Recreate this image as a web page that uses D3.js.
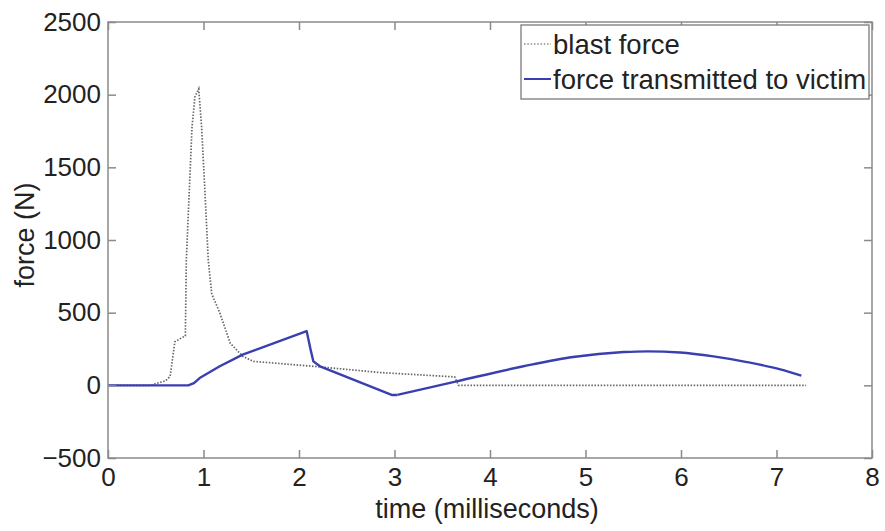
<!DOCTYPE html>
<html>
<head>
<meta charset="utf-8">
<script src="https://cdn.jsdelivr.net/npm/d3@7"></script>
<style>
  body { margin: 0; background: #fff; }
  text { font-family: "Liberation Sans", Arial, sans-serif; fill: #222; }
</style>
</head>
<body>
<div id="chart"></div>
<script>
// blast force (dotted grey)
const blastTime = [0, 0.45, 0.5, 0.6, 0.65, 0.7, 0.78, 0.81, 0.82, 0.88, 0.91, 0.95, 0.98, 1.016, 1.05, 1.086, 1.17, 1.28, 1.41, 1.52, 2.15, 2.85, 3.63, 3.67, 7.31];
const blastForce = [0, 0, 12, 30, 60, 300, 330, 340, 860, 1780, 1985, 2040, 1780, 1320, 860, 630, 500, 290, 200, 165, 131, 88, 58, 0, 0];

// force transmitted to victim (blue)
const victimTime = [0, 0.84, 0.9, 0.96, 1.17, 1.41, 2.08, 2.12, 2.15, 2.22, 2.97, 3.03, 3.65, 4.35, 4.87, 5.4, 5.65, 5.99, 6.34, 6.69, 7.04, 7.26];
const victimForce = [0, 0, 15, 50, 131, 211, 373, 250, 165, 131, -66, -66, 27, 131, 195, 229, 234, 226, 199, 160, 110, 67];

const xTicks = [0, 1, 2, 3, 4, 5, 6, 7, 8];
const yTicks = [-500, 0, 500, 1000, 1500, 2000, 2500];

const legendLabels = ["blast force", "force transmitted to victim"];

const conf = { width: 885, height: 531, left: 108, right: 13, top: 22, bottom: 73 };

const svg = d3.select("#chart").append("svg")
  .attr("width", conf.width)
  .attr("height", conf.height);

const x = d3.scaleLinear().domain([0, 8]).range([conf.left, conf.width - conf.right]);
const y = d3.scaleLinear().domain([-500, 2500]).range([conf.height - conf.bottom, conf.top]);

const axisColor = "#8a8a8a";
const tick = 8;
const blue = "#3a3fb0";

// lines
const blast = blastTime.map((t, i) => ({ t: t, f: blastForce[i] }));
const victim = victimTime.map((t, i) => ({ t: t, f: victimForce[i] }));

svg.append("path")
  .datum(blast)
  .attr("fill", "none")
  .attr("stroke", "#666")
  .attr("stroke-width", 1.7)
  .attr("stroke-dasharray", "1.5,1.6")
  .attr("d", d3.line().x(d => x(d.t)).y(d => y(d.f)));

// sharp part drawn straight, the slow swing after 3 ms drawn smooth
const sharp = victim.filter(d => d.t <= 3.03);
const swing = victim.filter(d => d.t >= 3.03);

svg.append("path")
  .datum(sharp)
  .attr("fill", "none")
  .attr("stroke", blue)
  .attr("stroke-width", 2.4)
  .attr("stroke-linejoin", "round")
  .attr("d", d3.line().x(d => x(d.t)).y(d => y(d.f)));

svg.append("path")
  .datum(swing)
  .attr("fill", "none")
  .attr("stroke", blue)
  .attr("stroke-width", 2.4)
  .attr("d", d3.line().x(d => x(d.t)).y(d => y(d.f)).curve(d3.curveMonotoneX));

// axes box with inward ticks on all sides
const fmt = d3.format("d");
function styleAxis(g) {
  g.select(".domain").remove();
  g.selectAll(".tick line").attr("stroke", axisColor).attr("stroke-width", 1.5);
  g.selectAll(".tick text").style("font-size", "26px").attr("fill", "#222");
}

svg.append("g")
  .attr("transform", `translate(0,${y(-500)})`)
  .call(d3.axisBottom(x).tickValues(xTicks).tickFormat(fmt).tickSizeInner(-tick).tickPadding(10))
  .call(styleAxis);

svg.append("g")
  .attr("transform", `translate(0,${y(2500)})`)
  .call(d3.axisTop(x).tickValues(xTicks).tickFormat("").tickSizeInner(-tick))
  .call(styleAxis);

svg.append("g")
  .attr("transform", `translate(${x(0)},0)`)
  .call(d3.axisLeft(y).tickValues(yTicks).tickFormat(fmt).tickSizeInner(-tick).tickPadding(7))
  .call(styleAxis);

svg.append("g")
  .attr("transform", `translate(${x(8)},0)`)
  .call(d3.axisRight(y).tickValues(yTicks).tickFormat("").tickSizeInner(-tick))
  .call(styleAxis);

svg.append("rect")
  .attr("x", x(0)).attr("y", y(2500))
  .attr("width", x(8) - x(0)).attr("height", y(-500) - y(2500))
  .attr("fill", "none").attr("stroke", axisColor).attr("stroke-width", 1.5);

// axis labels
svg.append("text")
  .attr("x", (x(0) + x(8)) / 2 - 3)
  .attr("y", 518)
  .attr("text-anchor", "middle")
  .style("font-size", "27px")
  .text("time (milliseconds)");

svg.append("text")
  .attr("transform", `translate(34,${(y(2500) + y(-500)) / 2 - 5}) rotate(-90)`)
  .attr("text-anchor", "middle")
  .style("font-size", "27px")
  .text("force (N)");

// legend
const lg = svg.append("g");
lg.append("rect")
  .attr("x", 521).attr("y", 25)
  .attr("width", 348).attr("height", 74)
  .attr("fill", "#fff").attr("stroke", "#7a7a7a").attr("stroke-width", 1.3);

const legendStyles = [
  { stroke: "#8a8a8a", width: 1.3, dash: "1.5,1.8" },
  { stroke: blue, width: 2, dash: null }
];
legendLabels.forEach((lab, i) => {
  const yy = 44 + i * 35;
  lg.append("line")
    .attr("x1", 524).attr("x2", 551)
    .attr("y1", yy).attr("y2", yy)
    .attr("stroke", legendStyles[i].stroke)
    .attr("stroke-width", legendStyles[i].width)
    .attr("stroke-dasharray", legendStyles[i].dash);
  lg.append("text")
    .attr("x", 553).attr("y", yy + 10)
    .style("font-size", "27.5px")
    .text(lab);
});
</script>
</body>
</html>
